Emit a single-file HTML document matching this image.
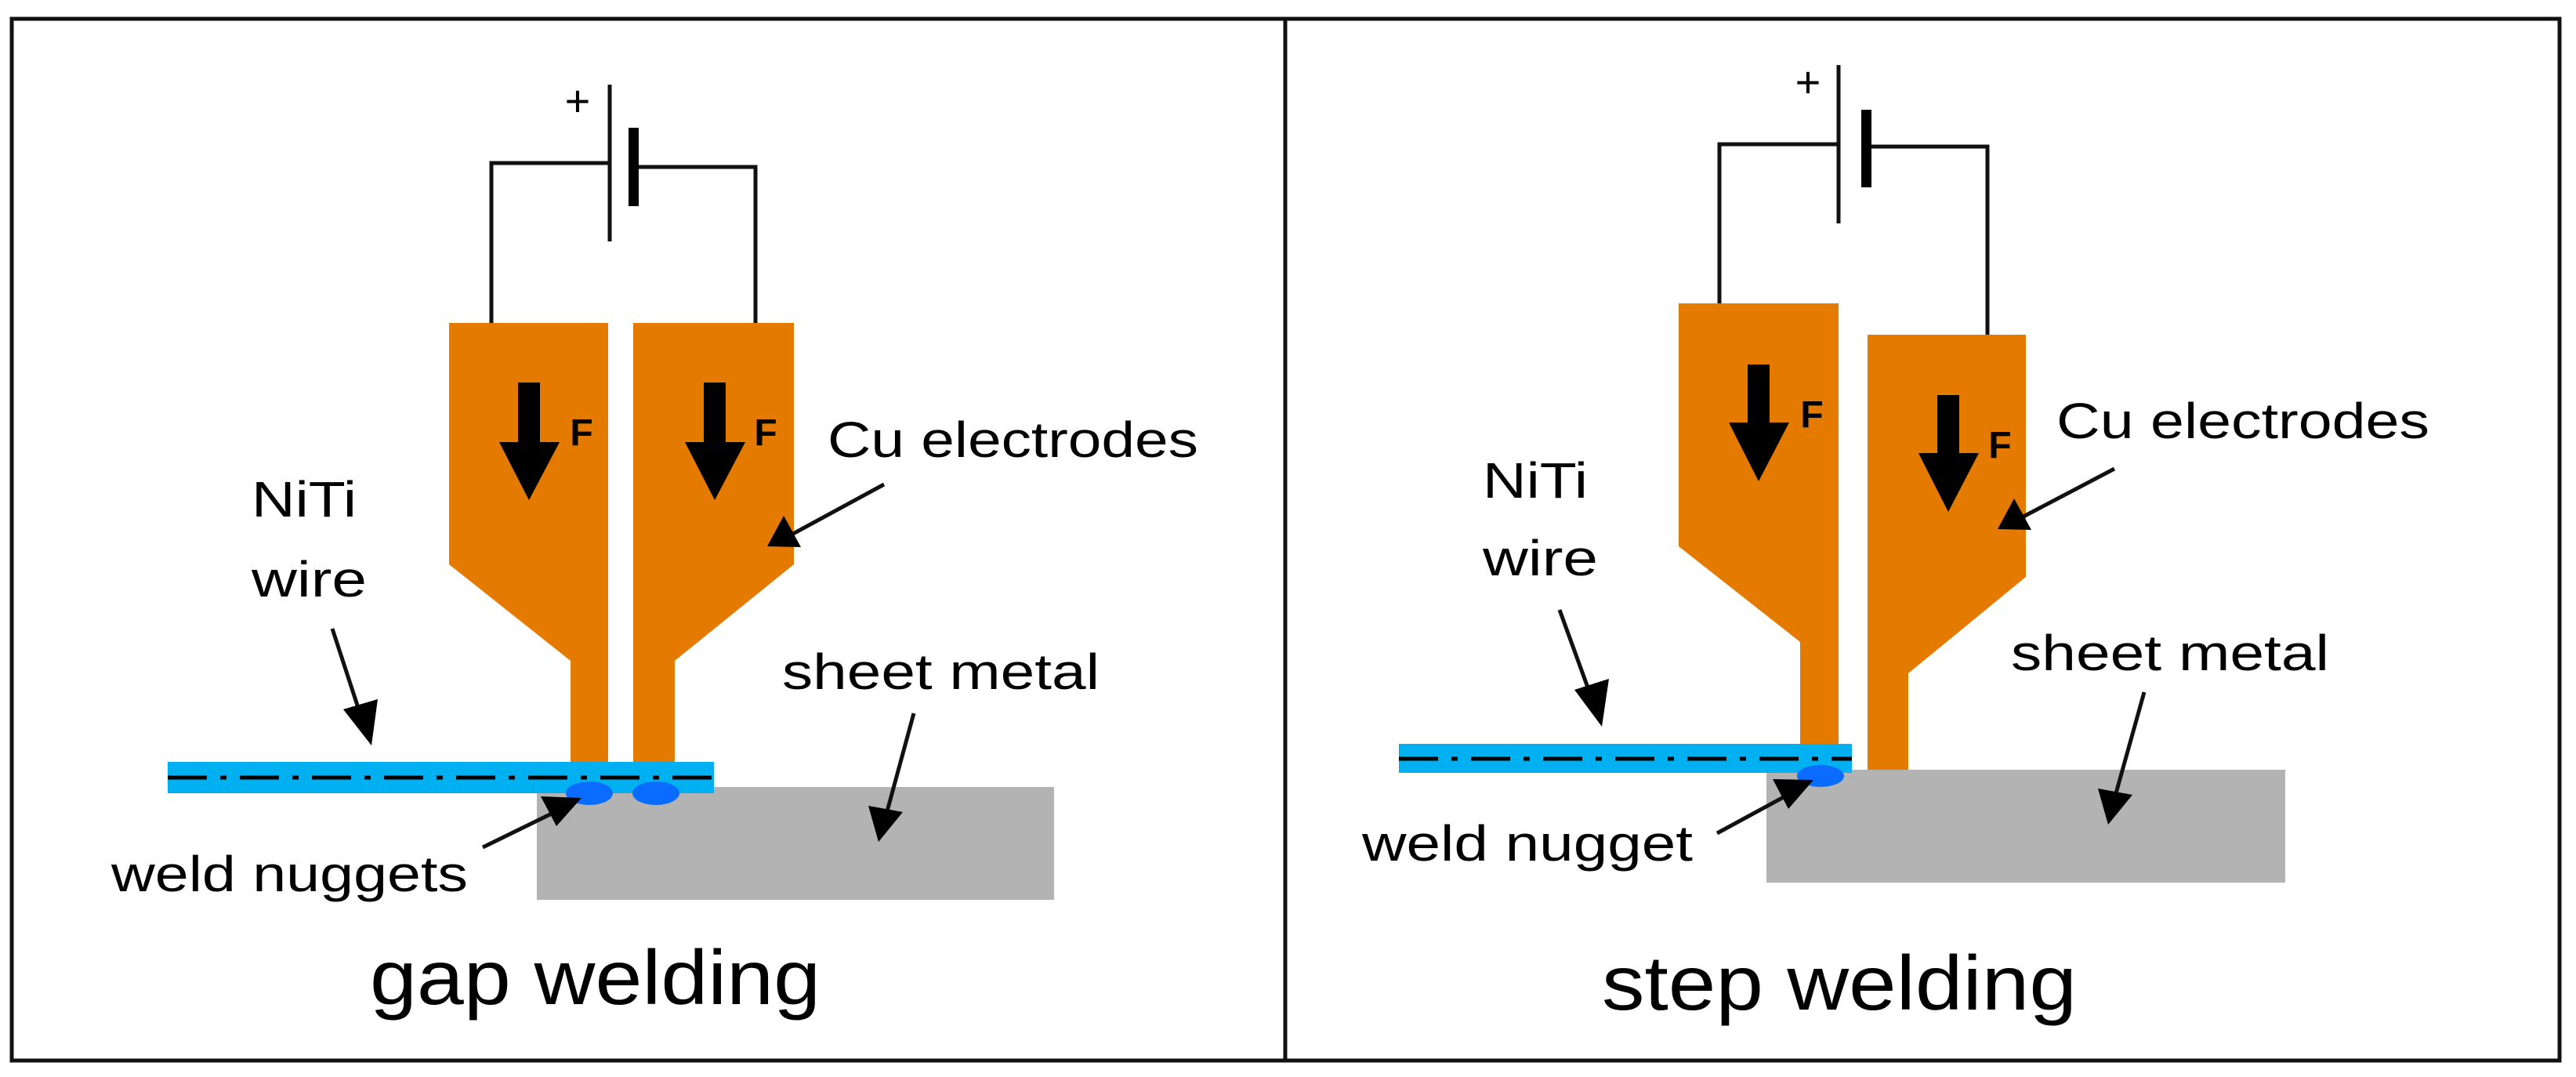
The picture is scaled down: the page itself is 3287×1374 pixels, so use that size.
<!DOCTYPE html>
<html><head><meta charset="utf-8"><style>
html,body{margin:0;padding:0;background:#fff;}
svg{display:block;}
text{font-family:"Liberation Sans",sans-serif;fill:#000;}
</style></head><body>
<svg width="3287" height="1374" viewBox="0 0 3287 1374" xmlns="http://www.w3.org/2000/svg">
<rect x="0" y="0" width="3287" height="1374" fill="#fff"/>
<rect x="15" y="24" width="3251" height="1329" fill="none" stroke="#111" stroke-width="5"/>
<line x1="1640" y1="24" x2="1640" y2="1353" stroke="#111" stroke-width="5"/>

<!-- ===== LEFT PANEL ===== -->
<g stroke="#111" stroke-width="5" fill="none">
<polyline points="627,412 627,208 778,208"/>
<polyline points="808,213 964,213 964,412"/>
<line x1="778" y1="108" x2="778" y2="308"/>
</g>
<rect x="802" y="163" width="13" height="100" fill="#000"/>
<text x="737" y="148" font-size="56" text-anchor="middle">+</text>
<polygon points="573,412 776,412 776,973 728,973 728,843 573,720" fill="#e57a00"/>
<polygon points="808,412 1013,412 1013,720 861,843 861,973 808,973" fill="#e57a00"/>
<polygon points="661,488 689,488 689,564 714,564 675,638 637,564 661,564" fill="#000"/>
<text x="742" y="568" font-size="48" font-weight="bold" text-anchor="middle">F</text>
<polygon points="898,488 926,488 926,564 951,564 912,638 874,564 898,564" fill="#000"/>
<text x="977" y="568" font-size="48" font-weight="bold" text-anchor="middle">F</text>
<rect x="685" y="1004" width="660" height="144" fill="#b3b3b3"/>
<rect x="214" y="972" width="697" height="40" fill="#00b0f0"/>
<line x1="214" y1="992" x2="911" y2="992" stroke="#000" stroke-width="5" stroke-dasharray="50,17,8,17"/>
<ellipse cx="752" cy="1012" rx="30" ry="15" fill="#0a6cff"/>
<ellipse cx="837" cy="1012" rx="30" ry="15" fill="#0a6cff"/>
<g stroke="#111" stroke-width="5">
<line x1="424" y1="802" x2="460" y2="912"/>
<line x1="1128" y1="618" x2="1010" y2="682"/>
<line x1="1166" y1="910" x2="1132" y2="1035"/>
<line x1="616" y1="1081" x2="712" y2="1034"/>
</g>
<polygon points="474,951 438,905 482,892" fill="#000"/>
<polygon points="979,697 1000,658 1022,698" fill="#000"/>
<polygon points="1121,1074 1108,1028 1152,1036" fill="#000"/>
<polygon points="742,1018 710,1054 690,1016" fill="#000"/>
<text x="1056" y="583" font-size="64" textLength="473" lengthAdjust="spacingAndGlyphs">Cu electrodes</text>
<text x="321" y="659" font-size="64" textLength="134" lengthAdjust="spacingAndGlyphs">NiTi</text>
<text x="321" y="761" font-size="64" textLength="147" lengthAdjust="spacingAndGlyphs">wire</text>
<text x="998" y="879" font-size="64" textLength="405" lengthAdjust="spacingAndGlyphs">sheet metal</text>
<text x="142" y="1137" font-size="64" textLength="455" lengthAdjust="spacingAndGlyphs">weld nuggets</text>
<text x="472" y="1281" font-size="98" textLength="575" lengthAdjust="spacingAndGlyphs">gap welding</text>

<!-- ===== RIGHT PANEL ===== -->
<g stroke="#111" stroke-width="5" fill="none">
<polyline points="2194,387 2194,184 2346,184"/>
<polyline points="2381,187 2536,187 2536,427"/>
<line x1="2346" y1="83" x2="2346" y2="285"/>
</g>
<rect x="2375" y="140" width="13" height="99" fill="#000"/>
<text x="2307" y="124" font-size="56" text-anchor="middle">+</text>
<polygon points="2142,387 2346,387 2346,951 2297,951 2297,819 2142,697" fill="#e57a00"/>
<polygon points="2383,427 2585,427 2585,736 2435,859 2435,982 2383,982" fill="#e57a00"/>
<polygon points="2230,465 2258,465 2258,539 2283,539 2244,614 2206,539 2230,539" fill="#000"/>
<text x="2312" y="545" font-size="48" font-weight="bold" text-anchor="middle">F</text>
<polygon points="2472,504 2500,504 2500,578 2525,578 2486,653 2448,578 2472,578" fill="#000"/>
<text x="2552" y="584" font-size="48" font-weight="bold" text-anchor="middle">F</text>
<rect x="2254" y="982" width="662" height="144" fill="#b3b3b3"/>
<rect x="1785" y="949" width="578" height="37" fill="#00b0f0"/>
<line x1="1785" y1="968" x2="2363" y2="968" stroke="#000" stroke-width="5" stroke-dasharray="50,17,8,17"/>
<ellipse cx="2323" cy="990" rx="30" ry="14" fill="#0a6cff"/>
<g stroke="#111" stroke-width="5">
<line x1="1990" y1="778" x2="2030" y2="888"/>
<line x1="2698" y1="598" x2="2580" y2="660"/>
<line x1="2736" y1="883" x2="2700" y2="1012"/>
<line x1="2191" y1="1063" x2="2285" y2="1012"/>
</g>
<polygon points="2044,927 2009,880 2053,866" fill="#000"/>
<polygon points="2549,675 2570,636 2592,676" fill="#000"/>
<polygon points="2690,1052 2677,1006 2721,1014" fill="#000"/>
<polygon points="2314,995 2282,1032 2262,994" fill="#000"/>
<text x="2624" y="559" font-size="64" textLength="476" lengthAdjust="spacingAndGlyphs">Cu electrodes</text>
<text x="1892" y="635" font-size="64" textLength="134" lengthAdjust="spacingAndGlyphs">NiTi</text>
<text x="1892" y="734" font-size="64" textLength="147" lengthAdjust="spacingAndGlyphs">wire</text>
<text x="2566" y="855" font-size="64" textLength="406" lengthAdjust="spacingAndGlyphs">sheet metal</text>
<text x="1738" y="1098" font-size="64" textLength="422" lengthAdjust="spacingAndGlyphs">weld nugget</text>
<text x="2044" y="1288" font-size="98" textLength="606" lengthAdjust="spacingAndGlyphs">step welding</text>
</svg>
</body></html>
